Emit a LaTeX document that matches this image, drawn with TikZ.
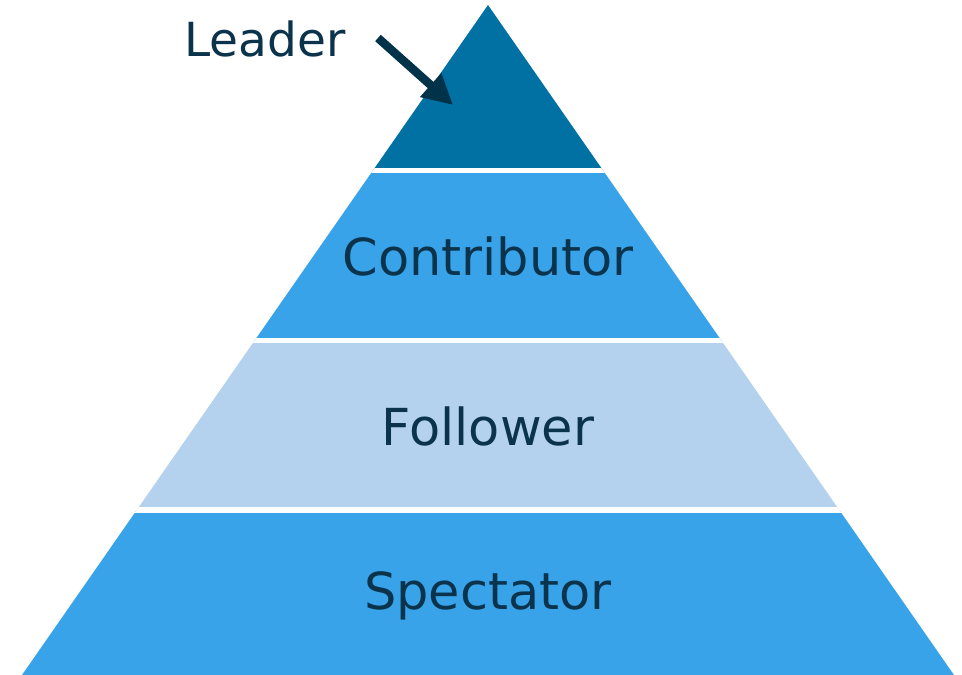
\documentclass[tikz,border=0pt]{standalone}
\usepackage{fontspec}
\setmainfont{DejaVu Sans}
\usetikzlibrary{arrows.meta, positioning}

\definecolor{topblue}{HTML}{0071A2}
\definecolor{midblue}{HTML}{38A3E8}
\definecolor{paleblue}{HTML}{B4D1ED}
\definecolor{labelnavy}{HTML}{0B344C}
\definecolor{arrownavy}{HTML}{00324A}

\tikzset{
  tierlabel/.style={text=labelnavy, font=\fontsize{51}{61}\selectfont, inner sep=0pt},
  gapline/.style={white, line width=5.5pt},
}

\begin{document}
\begin{tikzpicture}[x=1pt, y=-1pt]
\useasboundingbox (0,0) rectangle (962,675);

% pyramid bands, cut from one triangle
\begin{scope}
\clip (488,5) -- (954,675) -- (22,675) -- cycle;
\fill[topblue]  (0,0)   rectangle (962,170.5);
\fill[midblue]  (0,170.5) rectangle (962,340.5);
\fill[paleblue] (0,340.5) rectangle (962,510);
\fill[midblue]  (0,510) rectangle (962,675);
\draw[gapline] (0,170.5) -- (962,170.5);
\draw[gapline] (0,340.5) -- (962,340.5);
\draw[gapline] (0,510) -- (962,510);
\end{scope}

% tier names
\node[tierlabel] (contributor) at (488,256) {Contributor};
\node[tierlabel] (follower) at (488,426) {Follower};
\node[tierlabel] (spectator) at (488,596) {Spectator};
\node[tierlabel, font=\fontsize{47}{56}\selectfont] (leader) at (265,39) {Leader};

% pointer to the top
\coordinate (arrowtail) at (378,38);
\coordinate (arrowtip) at (453,105);
\draw[arrownavy, line width=8.5pt, -{Triangle[length=30pt, width=30pt]}] (arrowtail) -- (arrowtip);
\end{tikzpicture}
\end{document}
